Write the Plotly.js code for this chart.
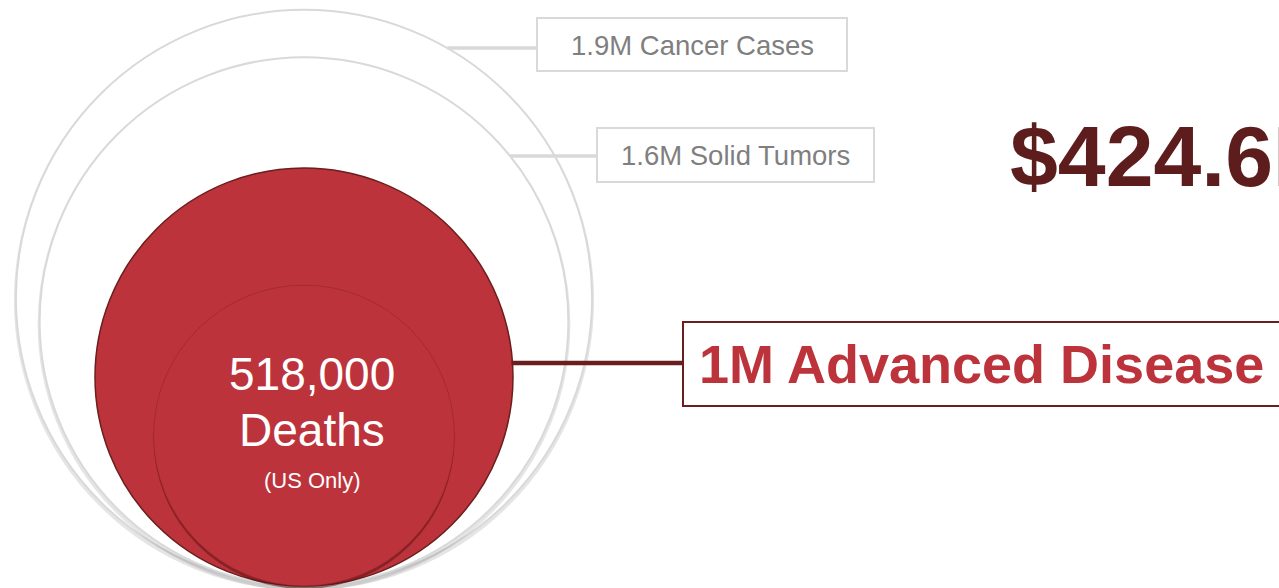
<!DOCTYPE html>
<html>
<head>
<meta charset="utf-8">
<script src="https://cdn.plot.ly/plotly-3.0.1.min.js"></script>
<style>
  html, body { margin: 0; padding: 0; background: #ffffff; }
  #chart { width: 1279px; height: 588px; }
</style>
</head>
<body>
<div id="chart"></div>
<script>
// ---- data ----
var categories = ["Cancer Cases", "Solid Tumors", "Advanced Disease", "Deaths"];
var values = [1900000, 1600000, 1000000, 518000];
var labels = ["1.9M Cancer Cases", "1.6M Solid Tumors", "1M Advanced Disease", "518,000"];
var deathsLines = ["518,000", "Deaths", "(US Only)"];
var spendLabel = "$424.6B";

// ---- geometry (pixel-like data coordinates) ----
var W = 1279, H = 588;
var cx = 304, baseY = 586;
var k = 209; // radius per sqrt(million)
function radius(v) { return k * Math.sqrt(v / 1e6); }
function cyOf(v) { return baseY - radius(v); }
function edgeX(v, y) { var r = radius(v), dy = y - cyOf(v); return cx + Math.sqrt(r * r - dy * dy); }

var FONT = "Arial, 'Liberation Sans', Helvetica, sans-serif";
var red = "#BD333B", maroon = "#6A1E1E", darkText = "#5E1D1D", gray = "#D9D9D9", grayText = "#7F7F7F";

var shapes = [];
function circ(v, dy, opts) {
  var r = radius(v), cy = cyOf(v) + dy;
  shapes.push(Object.assign({type: "circle", xref: "x", yref: "y",
    x0: cx - r, x1: cx + r, y0: cy - r, y1: cy + r, layer: "above"}, opts));
}
// outer gray circles (with soft bottom shadow)
circ(values[0], 2.5, {line: {color: "rgba(0,0,0,0.10)", width: 4}, fillcolor: "rgba(0,0,0,0)"});
circ(values[0], 0, {line: {color: gray, width: 2}, fillcolor: "#ffffff"});
circ(values[1], 2.5, {line: {color: "rgba(0,0,0,0.10)", width: 4}, fillcolor: "rgba(0,0,0,0)"});
circ(values[1], 0, {line: {color: gray, width: 2}, fillcolor: "#ffffff"});
// advanced disease circle
circ(values[2], 0, {line: {color: maroon, width: 1.5}, fillcolor: red});
// deaths circle with shadow
circ(values[3], 3, {line: {width: 0}, fillcolor: "rgba(90,18,22,0.55)"});
circ(values[3], 0, {line: {color: "rgba(150,35,42,0.6)", width: 1}, fillcolor: red});

// connectors
var y1 = 48, y2 = 156, y3 = 363;
shapes.push({type: "line", xref: "x", yref: "y", x0: edgeX(values[0], y1), x1: 537, y0: y1, y1: y1, line: {color: gray, width: 3.5}, layer: "above"});
shapes.push({type: "line", xref: "x", yref: "y", x0: edgeX(values[1], y2), x1: 597, y0: y2, y1: y2, line: {color: gray, width: 3.5}, layer: "above"});
shapes.push({type: "line", xref: "x", yref: "y", x0: edgeX(values[2], y3) - 1, x1: 683, y0: y3, y1: y3, line: {color: maroon, width: 4.5}, layer: "above"});
// label boxes
shapes.push({type: "rect", xref: "x", yref: "y", x0: 537, x1: 847, y0: 18, y1: 71, line: {color: gray, width: 2}, fillcolor: "#ffffff", layer: "above"});
shapes.push({type: "rect", xref: "x", yref: "y", x0: 597, x1: 874, y0: 128, y1: 182, line: {color: gray, width: 2}, fillcolor: "#ffffff", layer: "above"});
shapes.push({type: "rect", xref: "x", yref: "y", x0: 683, x1: 1300, y0: 322, y1: 406, line: {color: maroon, width: 2}, fillcolor: "#ffffff", layer: "above"});

var annotations = [
  {x: 692, y: 45, text: labels[0], xanchor: "center", yanchor: "middle", font: {family: FONT, size: 27.5, color: grayText}},
  {x: 735, y: 155, text: labels[1], xanchor: "center", yanchor: "middle", font: {family: FONT, size: 27.5, color: grayText}},
  {x: 697, y: 364, text: "<b>" + labels[2] + "</b>", xanchor: "left", yanchor: "middle", font: {family: FONT, size: 54, color: red}},
  {x: 1008, y: 156, text: "<b>" + spendLabel + "</b>", xanchor: "left", yanchor: "middle", font: {family: FONT, size: 86, color: darkText}},
  {x: 312, y: 373.5, text: deathsLines[0], xanchor: "center", yanchor: "middle", font: {family: FONT, size: 46, color: "#ffffff"}},
  {x: 312, y: 430, text: deathsLines[1], xanchor: "center", yanchor: "middle", font: {family: FONT, size: 46, color: "#ffffff"}},
  {x: 312, y: 480, text: deathsLines[2], xanchor: "center", yanchor: "middle", font: {family: FONT, size: 22, color: "#ffffff"}}
].map(function (a) { return Object.assign({xref: "x", yref: "y", showarrow: false}, a); });

var layout = {
  width: W, height: H,
  margin: {l: 0, r: 0, t: 0, b: 0, pad: 0},
  paper_bgcolor: "#ffffff", plot_bgcolor: "#ffffff",
  showlegend: false,
  xaxis: {range: [0, W], visible: false, fixedrange: true},
  yaxis: {range: [H, 0], visible: false, fixedrange: true},
  shapes: shapes,
  annotations: annotations
};

Plotly.newPlot("chart", [{type: "scatter", x: [], y: [], mode: "markers", hoverinfo: "skip"}], layout, {staticPlot: true, displayModeBar: false});
</script>
</body>
</html>
